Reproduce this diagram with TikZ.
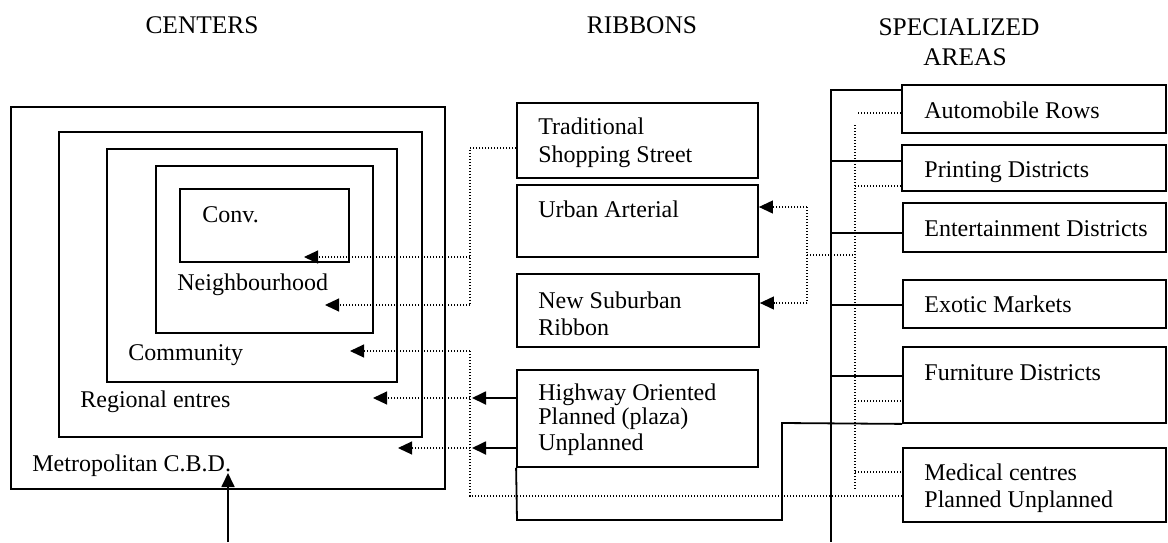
\documentclass[tikz,border=0pt]{standalone}
\usepackage{fontspec}
\setmainfont{Liberation Serif}
\usetikzlibrary{arrows.meta,fit}
\tikzset{
  box/.style={draw, line width=0.9pt, inner sep=0pt},
  lbl/.style={anchor=base west, inner sep=0pt, font=\fontsize{12}{14}\selectfont},
  hdr/.style={anchor=base, inner sep=0pt, font=\fontsize{12.7}{15}\selectfont},
  sol/.style={line width=0.9pt},
  dotl/.style={line width=0.55pt, dash pattern=on 0.55pt off 0.95pt},
  tipa/.style={-{Triangle[length=7pt,width=6.5pt]}}
}
\begin{document}
\begin{tikzpicture}[x=0.5pt,y=-0.5pt]
\useasboundingbox (0,0) rectangle (1168,542);
% headers
\node[hdr] (hC) at (202,33) {CENTERS};
\node[hdr] (hR) at (642,33) {RIBBONS};
\node[hdr] (hS1) at (959,35) {SPECIALIZED};
\node[hdr] (hS2) at (965,65) {AREAS};
% centers
\node[box, fit={(11,107)(445,489)}] (metro) {};
\node[box, fit={(59,132)(422,437)}] (regional) {};
\node[box, fit={(107,149)(397,382)}] (community) {};
\node[box, fit={(156,166)(373,333)}] (neigh) {};
\node[box, fit={(180,189)(349,262)}] (conv) {};
\node[lbl] (convL) at (202,222) {Conv.};
\node[lbl] (neighL) at (177,290) {Neighbourhood};
\node[lbl] (commL) at (128,360) {Community};
\node[lbl] (regL) at (80,407) {Regional entres};
\node[lbl] (metL) at (32,471) {Metropolitan C.B.D.};
% ribbons
\node[box, fit={(517,103)(758,178)}] (trad) {};
\node[box, fit={(517,185)(758,257)}] (urban) {};
\node[box, fit={(517,274)(759,347)}] (suburb) {};
\node[box, fit={(517,370)(758,467)}] (highway) {};
\node[lbl] (tradL1) at (538,134) {Traditional};
\node[lbl] (tradL2) at (538,162) {Shopping Street};
\node[lbl] (urbanL) at (538,217) {Urban Arterial};
\node[lbl] (subL1) at (538,308) {New Suburban};
\node[lbl] (subL2) at (538,335) {Ribbon};
\node[lbl] (hwL1) at (538,400) {Highway Oriented};
\node[lbl] (hwL2) at (538,424) {Planned (plaza)};
\node[lbl] (hwL3) at (538,450) {Unplanned};
% specialized
\node[box, fit={(902,85)(1166,133)}] (auto) {};
\node[box, fit={(902,145)(1166,191)}] (print) {};
\node[box, fit={(903,203)(1166,252)}] (ent) {};
\node[box, fit={(903,280)(1166,328)}] (exotic) {};
\node[box, fit={(903,347)(1166,423)}] (furn) {};
\node[box, fit={(903,448)(1166,522)}] (medical) {};
\node[lbl] (autoL) at (924,118) {Automobile Rows};
\node[lbl] (printL) at (924,177) {Printing Districts};
\node[lbl] (entL) at (924,236) {Entertainment Districts};
\node[lbl] (exoL) at (924,312) {Exotic Markets};
\node[lbl] (furnL) at (924,380) {Furniture Districts};
\node[lbl] (medL1) at (924,480) {Medical centres};
\node[lbl] (medL2) at (924,507) {Planned Unplanned};
% coordinates
\coordinate (tConv) at (304,257);
\coordinate (tNeigh) at (325,305);
\coordinate (tComm) at (350,351);
\coordinate (tReg) at (373,398);
\coordinate (tMet) at (398,448);
\coordinate (bot) at (228,542);
% traditional -> conv, neighbourhood
\draw[dotl] (trad.west |- 0,148) -| (470,305);
\draw[dotl,tipa] (470,257) -- (tConv);
\draw[dotl,tipa] (470,305) -- (tNeigh);
% medical -> community, regional, metro
\draw[dotl] (medical.west |- 0,496) -| (470,351);
\draw[dotl,tipa] (470,351) -- (tComm);
\draw[dotl,tipa] (470,398) -- (tReg);
\draw[dotl,tipa] (470,448) -- (tMet);
% highway -> regional, metro
\draw[sol,tipa] (highway.west |- 0,398) -- (472,398);
\draw[sol,tipa] (highway.west |- 0,448) -- (472,448);
% bottom arrow
\draw[sol,tipa] (bot) -- ([yshift=-1pt]bot |- metL.base);
% highway bracket to furniture
\draw[sol] (highway.south west) -- (517,520) -- (782,520) -- (782,423) -- (furn.south west);
% urban / suburban
\draw[dotl] (807,207) -- (807,303);
\draw[dotl,tipa] (807,207) -- (urban.east |- 0,207);
\draw[dotl,tipa] (807,303) -- (suburb.east |- 0,303);
\draw[dotl] (807,255) -- (855,255);
% specialized dotted bus
\draw[dotl] (855,125) -- (855,490);
\draw[dotl] (858,113) -- (auto.west |- 0,113);
\draw[dotl] (855,186) -- (print.west |- 0,186);
\draw[dotl] (855,401) -- (furn.west |- 0,401);
\draw[dotl] (855,472) -- (medical.west |- 0,472);
% specialized solid bus
\draw[sol] (auto.west |- 0,90) -| (831,542);
\draw[sol] (831,161) -- (print.west |- 0,161);
\draw[sol] (831,233) -- (ent.west |- 0,233);
\draw[sol] (831,305) -- (exotic.west |- 0,305);
\draw[sol] (831,376) -- (furn.west |- 0,376);
\end{tikzpicture}
\end{document}
